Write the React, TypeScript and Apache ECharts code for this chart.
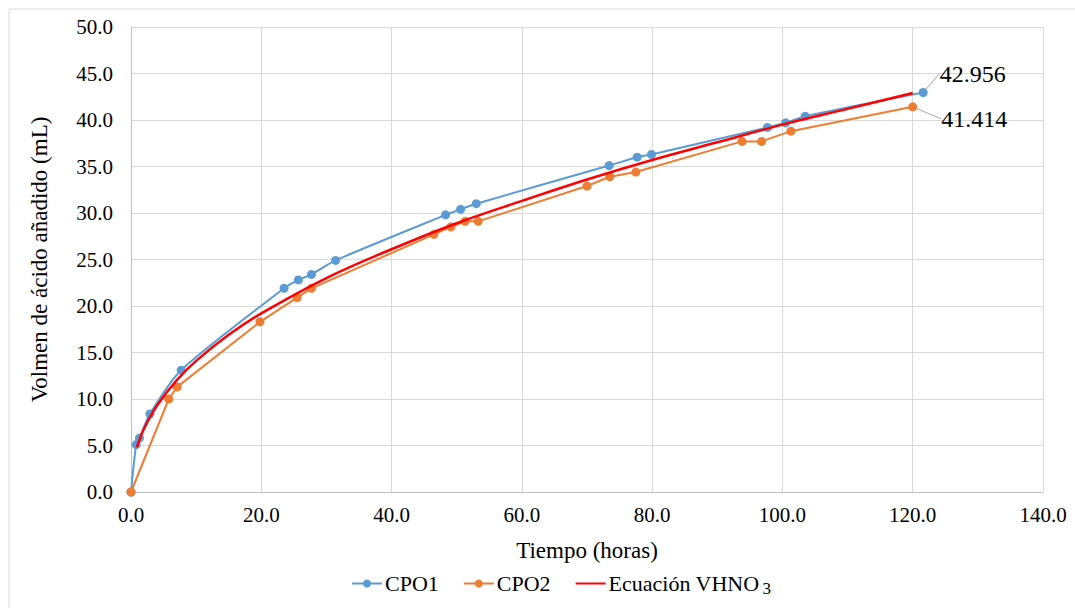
import React, { useEffect, useRef } from "react";
import * as echarts from "echarts";

const cpo1X = [0, 0.8, 1.3, 2.9, 7.7, 23.5, 25.7, 27.7, 31.4, 48.3, 50.6, 53.0, 73.4, 77.7, 79.9, 97.7, 100.5, 103.5, 121.6];
const cpo1Y = [0, 5.1, 5.8, 8.4, 13.1, 21.9, 22.8, 23.4, 24.9, 29.8, 30.4, 31.0, 35.1, 36.0, 36.3, 39.2, 39.7, 40.4, 42.956];

const cpo2X = [0, 5.8, 7.1, 19.8, 25.5, 27.7, 46.5, 49.1, 51.3, 53.3, 70.0, 73.5, 77.5, 93.8, 96.8, 101.3, 120.0];
const cpo2Y = [0, 10.0, 11.3, 18.3, 20.9, 21.9, 27.7, 28.5, 29.1, 29.1, 32.9, 33.9, 34.4, 37.7, 37.7, 38.8, 41.414];

const eqX = [0.9, 2, 4, 7, 10, 15, 20, 30, 40, 50, 60, 70, 80, 90, 100, 110, 120];
const eqY = [4.8, 6.8, 9.3, 12.0, 14.1, 16.9, 19.2, 23.0, 26.1, 28.9, 31.3, 33.6, 35.7, 37.6, 39.5, 41.2, 42.9];

const seriesNames = ["CPO1", "CPO2", "Ecuación VHNO3"];
const endLabels = ["42.956", "41.414"];

const FONT = "Liberation Serif";

export default function App() {
  const ref = useRef<HTMLDivElement>(null);
  useEffect(() => {
    document.body.style.margin = "0";
    const chart = echarts.init(ref.current!, null, { renderer: "svg" });
    const mk = (xs: number[], ys: number[], label?: string) =>
      xs.map((x, i) => {
        const item: any = { value: [x, ys[i]] };
        if (label && i === xs.length - 1) {
          item.label = {
            show: true,
            formatter: label,
            position: "right",
            distance: 4,
            fontFamily: FONT,
            fontSize: 24,
            color: "#000",
          };
        }
        return item;
      });
    const lblLine = { show: true, lineStyle: { color: "#A6A6A6", width: 1 } };
    chart.setOption({
      animation: false,
      backgroundColor: "#fff",
      textStyle: { fontFamily: FONT },
      graphic: [
        {
          type: "rect",
          shape: { x: 9, y: 9, width: 1080, height: 620 },
          style: { fill: "none", stroke: "#D9D9D9", lineWidth: 1 },
          silent: true,
        },
      ],
      grid: { left: 131, right: 32, top: 27, bottom: 116, containLabel: false },
      xAxis: {
        type: "value",
        min: 0,
        max: 140,
        interval: 20,
        name: "Tiempo (horas)",
        nameLocation: "middle",
        nameGap: 47,
        nameTextStyle: { fontFamily: FONT, fontSize: 23, color: "#000" },
        axisLabel: { formatter: (v: number) => v.toFixed(1), fontFamily: FONT, fontSize: 21, color: "#000", margin: 12 },
        axisLine: { show: true, lineStyle: { color: "#BFBFBF" } },
        axisTick: { show: false },
        splitLine: { show: true, lineStyle: { color: "#D9D9D9" } },
      },
      yAxis: {
        type: "value",
        min: 0,
        max: 50,
        interval: 5,
        name: "Volmen de ácido añadido (mL)",
        nameLocation: "middle",
        nameGap: 80,
        nameTextStyle: { fontFamily: FONT, fontSize: 23, color: "#000" },
        axisLabel: { formatter: (v: number) => v.toFixed(1), fontFamily: FONT, fontSize: 21, color: "#000", margin: 18 },
        axisLine: { show: true, lineStyle: { color: "#BFBFBF" } },
        axisTick: { show: false },
        splitLine: { show: true, lineStyle: { color: "#D9D9D9" } },
      },
      legend: {
        bottom: 6,
        left: 346,
        itemGap: 24,
        itemWidth: 30,
        itemHeight: 10,
        textStyle: {
          fontFamily: FONT,
          fontSize: 22,
          color: "#000",
          padding: [0, 0, 0, -2],
          rich: { sub: { fontFamily: FONT, fontSize: 17, padding: [10, 0, 0, 3], color: "#000" } },
        },
        formatter: (n: string) => (n === "Ecuación VHNO3" ? "Ecuación VHNO{sub|3}" : n),
        data: [
          { name: seriesNames[0] },
          { name: seriesNames[1] },
          { name: seriesNames[2], itemStyle: { opacity: 0 } },
        ],
      },
      series: [
        {
          name: seriesNames[0],
          type: "line",
          data: mk(cpo1X, cpo1Y, endLabels[0]),
          smooth: 0.25,
          symbol: "circle",
          symbolSize: 9,
          color: "#5B9BD5",
          lineStyle: { width: 2, color: "#5B9BD5" },
          labelLayout: { dx: 8, dy: -19 },
          labelLine: lblLine,
          z: 2,
        },
        {
          name: seriesNames[1],
          type: "line",
          data: mk(cpo2X, cpo2Y, endLabels[1]),
          smooth: false,
          symbol: "circle",
          symbolSize: 9,
          color: "#ED7D31",
          lineStyle: { width: 2, color: "#ED7D31" },
          labelLayout: { dx: 20, dy: 12 },
          labelLine: lblLine,
          z: 2,
        },
        {
          name: seriesNames[2],
          type: "line",
          data: eqX.map((x, i) => [x, eqY[i]]),
          smooth: 0.4,
          symbol: "none",
          showSymbol: false,
          color: "#FF0000",
          lineStyle: { width: 2.5, color: "#FF0000" },
          z: 3,
        },
      ],
    });
    return () => chart.dispose();
  }, []);
  return <div ref={ref} style={{ width: 1075, height: 608 }} />;
}
